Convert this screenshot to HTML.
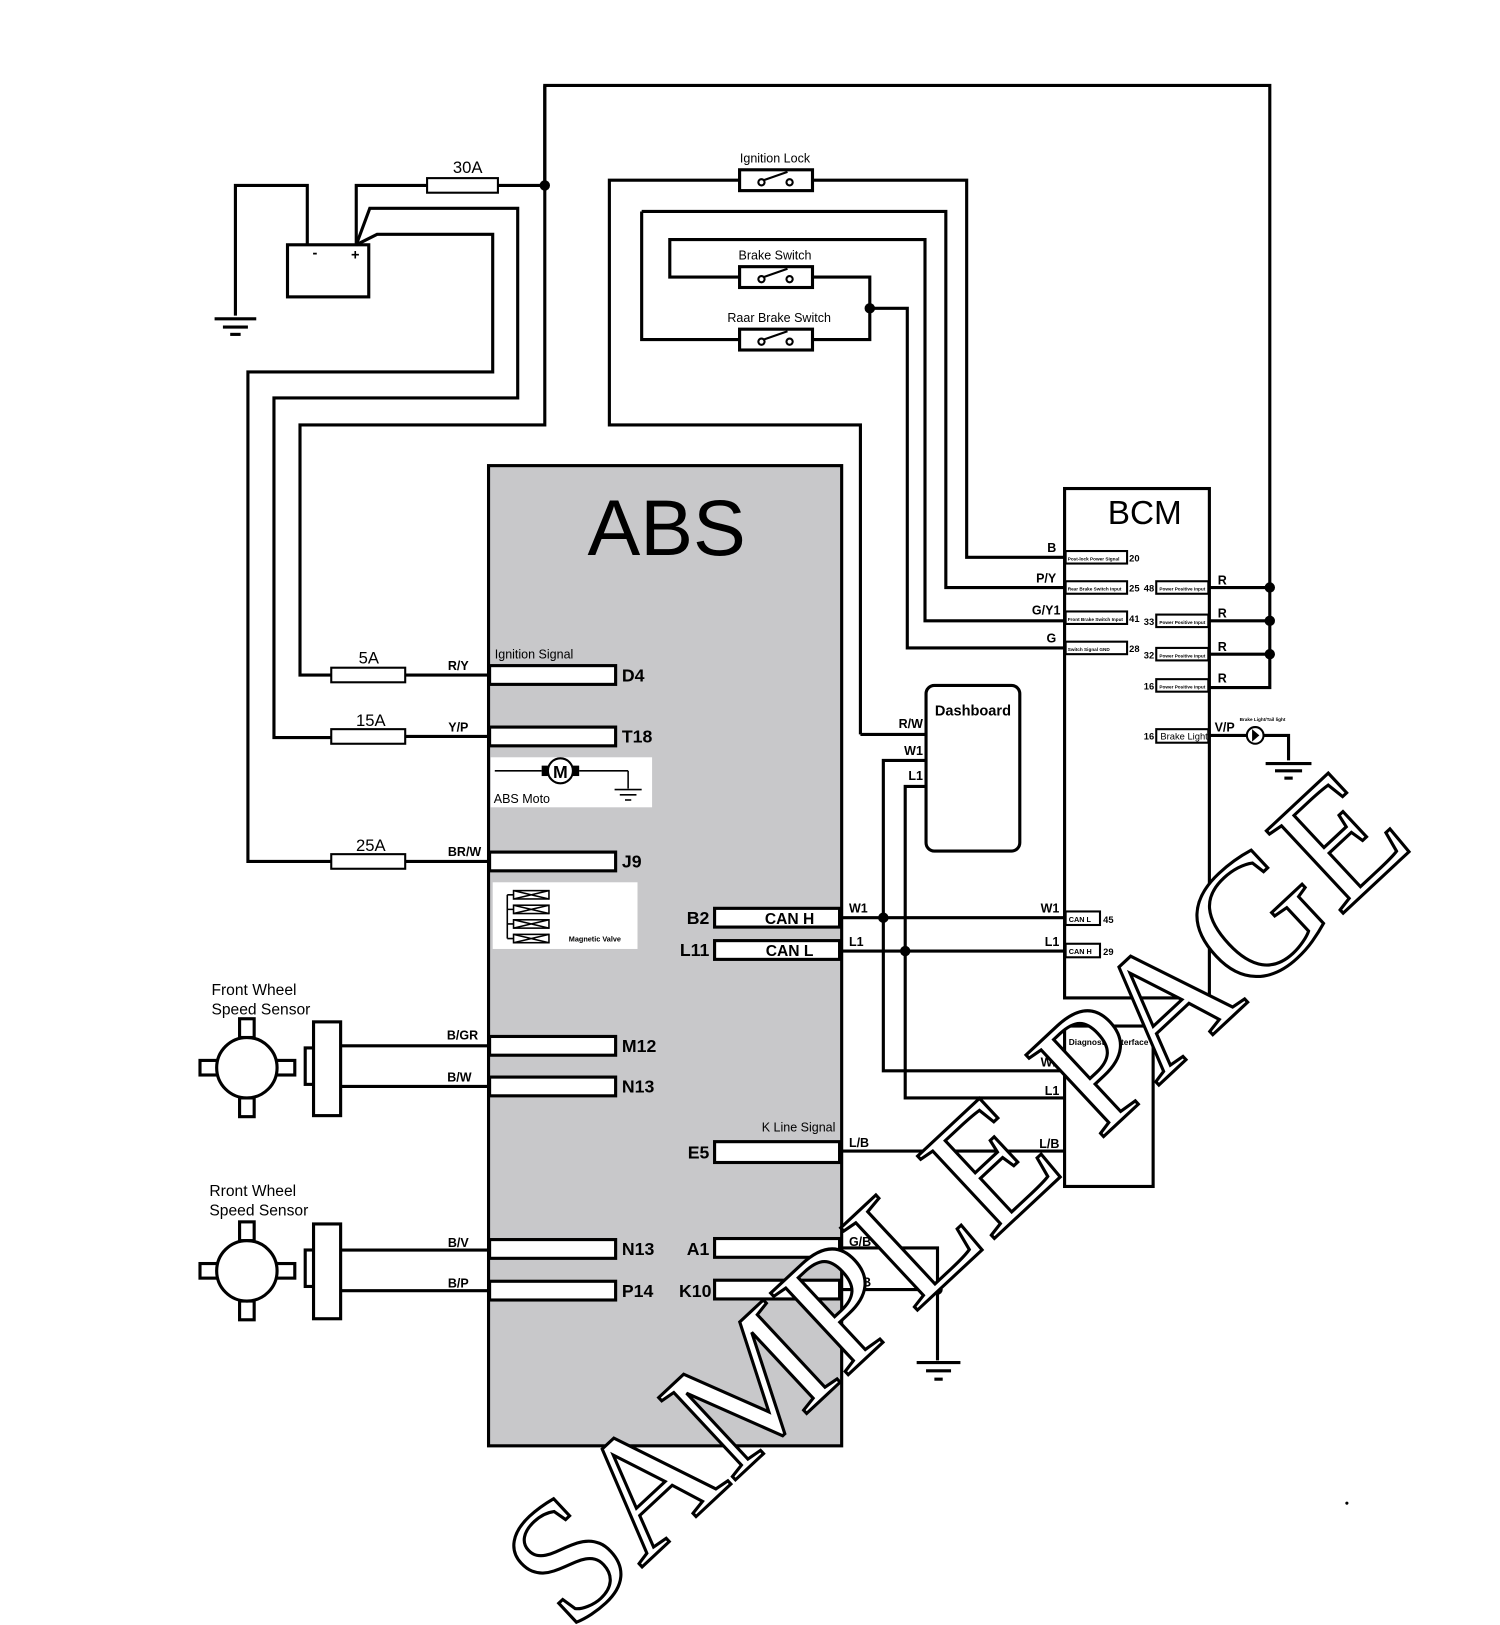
<!DOCTYPE html>
<html><head><meta charset="utf-8"><style>html,body{margin:0;padding:0;background:#fff}svg{display:block}</style></head><body>
<svg width="1500" height="1625" viewBox="0 0 1440 1560" xmlns="http://www.w3.org/2000/svg" font-family="Liberation Sans, sans-serif">
<g fill="none" stroke="#000" stroke-width="3">
<polyline points="226,303 226,178 295,178 295,235"/>
<line x1="206" y1="306" x2="246" y2="306"/><line x1="214" y1="314" x2="238" y2="314"/><line x1="221" y1="321" x2="231" y2="321"/>
<rect x="276" y="235" width="78" height="50"/>
<polyline points="342,235 342,178 410,178"/>
<rect x="410" y="171" width="68" height="14" stroke-width="2"/>
<line x1="478" y1="178" x2="523" y2="178"/>
<polyline points="342,235 355,200 497,200 497,382 263,382 263,708 318,708"/>
<polyline points="342,235 362,225 473,225 473,357 238,357 238,827 318,827"/>
<polyline points="523,82 523,408 288,408 288,648 318,648"/>
<polyline points="523,178 523,82 1219,82 1219,660 1161,660"/>
<line x1="1161" y1="564" x2="1219" y2="564"/><line x1="1161" y1="596" x2="1219" y2="596"/><line x1="1161" y1="628" x2="1219" y2="628"/>
<rect x="318" y="641" width="71" height="14" stroke-width="2"/><line x1="389" y1="648" x2="470" y2="648"/>
<rect x="318" y="700" width="71" height="14" stroke-width="2"/><line x1="389" y1="707" x2="470" y2="707"/>
<rect x="318" y="820" width="71" height="14" stroke-width="2"/><line x1="389" y1="827" x2="470" y2="827"/>
<polyline points="826,705 826,408 585,408 585,173 710,173"/>
<rect x="710" y="163" width="70" height="20"/>
<polyline points="780,173 928,173 928,535 1022,535"/>
<polyline points="616,203 908,203 908,564 1022,564"/>
<polyline points="616,203 616,326 710,326"/>
<rect x="710" y="316" width="70" height="20"/>
<polyline points="780,326 835,326 835,266 780,266"/>
<rect x="710" y="256" width="70" height="20"/>
<polyline points="710,266 643,266 643,230 888,230 888,596 1022,596"/>
<polyline points="835,296 871,296 871,622 1022,622"/>
<polyline points="826,705 889,705"/>
<rect x="469" y="447" width="339" height="941" fill="#c8c8ca"/>
</g>
<g fill="#000">
<circle cx="523" cy="178" r="5"/><circle cx="835" cy="296" r="5"/>
<circle cx="1219" cy="564" r="5"/><circle cx="1219" cy="596" r="5"/><circle cx="1219" cy="628" r="5"/>
<circle cx="848" cy="881" r="5"/><circle cx="869" cy="913" r="5"/><circle cx="900" cy="1238" r="5"/>
</g>
<g stroke="#000" stroke-width="2" fill="#fff">
<circle cx="731" cy="175" r="3"/><circle cx="758" cy="175" r="3"/><line x1="733" y1="173" x2="756" y2="165"/>
<circle cx="731" cy="268" r="3"/><circle cx="758" cy="268" r="3"/><line x1="733" y1="266" x2="756" y2="258"/>
<circle cx="731" cy="328" r="3"/><circle cx="758" cy="328" r="3"/><line x1="733" y1="326" x2="756" y2="318"/>
</g>
<g fill="#fff" stroke="#000" stroke-width="3">
<rect x="470" y="639" width="121" height="18"/><rect x="470" y="698" width="121" height="18"/>
<rect x="470" y="818" width="121" height="18"/><rect x="470" y="995" width="121" height="18"/>
<rect x="470" y="1034" width="121" height="18"/><rect x="470" y="1190" width="121" height="18"/>
<rect x="470" y="1230" width="121" height="18"/>
<rect x="686" y="872" width="120" height="18"/><rect x="686" y="903" width="120" height="18"/>
<rect x="686" y="1096" width="120" height="20"/><rect x="686" y="1189" width="120" height="18"/>
<rect x="686" y="1229" width="120" height="18"/>
</g>
<rect x="471" y="727" width="155" height="48" fill="#fff"/>
<rect x="473" y="847" width="139" height="64" fill="#fff"/>
<g stroke="#000" fill="none" stroke-width="1.5">
<line x1="475" y1="740" x2="520" y2="740"/><line x1="556" y1="740" x2="603" y2="740"/><line x1="603" y1="740" x2="603" y2="757"/>
<line x1="590" y1="758" x2="616" y2="758"/><line x1="595" y1="763" x2="611" y2="763"/><line x1="600" y1="768" x2="606" y2="768"/>
<circle cx="538" cy="740" r="12" fill="#fff" stroke-width="2"/>
<rect x="493" y="855" width="34" height="8"/><rect x="493" y="869" width="34" height="8"/><rect x="493" y="883" width="34" height="8"/><rect x="493" y="897" width="34" height="8"/>
<path d="M493,855 L527,863 M527,855 L493,863 M493,869 L527,877 M527,869 L493,877 M493,883 L527,891 M527,883 L493,891 M493,897 L527,905 M527,897 L493,905"/>
<polyline points="487,859 487,901"/><path d="M487,859H493M487,873H493M487,887H493M487,901H493"/>
</g>
<rect x="520" y="735" width="6" height="10"/><rect x="550" y="735" width="6" height="10"/>
<text x="538" y="747" font-size="17" font-weight="bold" text-anchor="middle">M</text>
<text x="474" y="771" font-size="12">ABS Moto</text>
<text x="546" y="904" font-size="7" font-weight="bold">Magnetic Valve</text>
<g fill="none" stroke="#000" stroke-width="3">
<rect x="889" y="658" width="90" height="159" rx="8"/>
<polyline points="889,730 848,730 848,1028 1022,1028"/>
<polyline points="889,755 869,755 869,1054 1022,1054"/>
<line x1="808" y1="881" x2="1022" y2="881"/><line x1="808" y1="913" x2="1022" y2="913"/>
<rect x="1022" y="469" width="139" height="489"/>
<rect x="1022" y="985" width="85" height="154"/>
<line x1="808" y1="1105" x2="1022" y2="1105"/>
<polyline points="808,1198 900,1198 900,1306"/><line x1="808" y1="1238" x2="900" y2="1238"/>
<line x1="880" y1="1308" x2="922" y2="1308"/><line x1="889" y1="1316" x2="913" y2="1316"/><line x1="897" y1="1324" x2="905" y2="1324"/>
<line x1="1161" y1="706" x2="1197" y2="706"/><polyline points="1213,706 1237,706 1237,730"/>
<line x1="1215" y1="733" x2="1259" y2="733"/><line x1="1224" y1="740" x2="1250" y2="740"/><line x1="1233" y1="747" x2="1241" y2="747"/>
<circle cx="1205" cy="706" r="8" stroke-width="2"/>
</g>
<path d="M1202,700 L1209,706 L1202,712Z"/>
<g fill="#fff" stroke="#000" stroke-width="2">
<rect x="1023" y="529" width="59" height="12"/><rect x="1023" y="558" width="59" height="12"/>
<rect x="1023" y="587" width="59" height="12"/><rect x="1023" y="616" width="59" height="12"/>
<rect x="1110" y="558" width="50" height="12"/><rect x="1110" y="590" width="50" height="12"/>
<rect x="1110" y="622" width="50" height="12"/><rect x="1110" y="652" width="50" height="12"/>
<rect x="1110" y="700" width="50" height="13"/>
<rect x="1023" y="875" width="33" height="13"/><rect x="1023" y="906" width="33" height="13"/>
</g>
<g font-size="4.5" font-weight="bold">
<text x="1025" y="538">Post-lock Power Signal</text><text x="1025" y="567">Rear Brake Switch Input</text>
<text x="1025" y="596">Front Brake Switch Input</text><text x="1025" y="625">Switch Signal GND</text>
<text x="1113" y="567">Power Positive Input</text><text x="1113" y="599">Power Positive Input</text>
<text x="1113" y="631">Power Positive Input</text><text x="1113" y="661">Power Positive Input</text>
<text x="1190" y="692">Brake Light/Tail light</text>
</g>
<g font-size="9" font-weight="bold">
<text x="1084" y="539">20</text><text x="1084" y="568">25</text><text x="1084" y="597">41</text><text x="1084" y="626">28</text>
<text x="1108" y="568" text-anchor="end">48</text><text x="1108" y="600" text-anchor="end">33</text>
<text x="1108" y="632" text-anchor="end">32</text><text x="1108" y="662" text-anchor="end">16</text>
<text x="1108" y="710" text-anchor="end">16</text><text x="1114" y="710" font-size="9" font-weight="normal">Brake Light</text>
<text x="1059" y="886">45</text><text x="1059" y="917">29</text>
</g>
<g font-size="7" font-weight="bold"><text x="1026" y="885">CAN L</text><text x="1026" y="916">CAN H</text></g>
<g font-size="12" font-weight="bold">
<text x="1014" y="530" text-anchor="end">B</text><text x="1014" y="559" text-anchor="end">P/Y</text>
<text x="1018" y="590" text-anchor="end">G/Y1</text><text x="1014" y="617" text-anchor="end">G</text>
<text x="1169" y="561">R</text><text x="1169" y="593">R</text><text x="1169" y="625">R</text><text x="1169" y="655">R</text>
<text x="1166" y="702">V/P</text>
<text x="886" y="699" text-anchor="end">R/W</text><text x="886" y="725" text-anchor="end">W1</text><text x="886" y="749" text-anchor="end">L1</text>
<text x="815" y="876">W1</text><text x="815" y="908">L1</text>
<text x="1017" y="876" text-anchor="end">W1</text><text x="1017" y="908" text-anchor="end">L1</text>
<text x="815" y="1101">L/B</text><text x="1017" y="1102" text-anchor="end">L/B</text>
<text x="1017" y="1024" text-anchor="end">W1</text><text x="1017" y="1051" text-anchor="end">L1</text>
<text x="815" y="1196">G/B</text><text x="815" y="1235">G/B</text>
<text x="440" y="643" text-anchor="middle">R/Y</text><text x="440" y="702" text-anchor="middle">Y/P</text>
<text x="446" y="822" text-anchor="middle">BR/W</text>
<text x="444" y="998" text-anchor="middle">B/GR</text><text x="441" y="1038" text-anchor="middle">B/W</text>
<text x="440" y="1197" text-anchor="middle">B/V</text><text x="440" y="1236" text-anchor="middle">B/P</text>
<text x="744" y="156" text-anchor="middle" font-weight="normal">Ignition Lock</text>
<text x="744" y="249" text-anchor="middle" font-weight="normal">Brake Switch</text>
<text x="748" y="309" text-anchor="middle" font-weight="normal">Raar Brake Switch</text>
<text x="475" y="632" font-weight="normal">Ignition Signal</text>
<text x="802" y="1086" text-anchor="end" font-weight="normal">K Line Signal</text>
<text x="1026" y="1003" font-size="8">Diagnostic Interface</text>
</g>
<g font-size="17" font-weight="bold">
<text x="597" y="654">D4</text><text x="597" y="713">T18</text><text x="597" y="833">J9</text>
<text x="597" y="1010">M12</text><text x="597" y="1049">N13</text><text x="597" y="1205">N13</text><text x="597" y="1245">P14</text>
<text x="681" y="887" text-anchor="end">B2</text><text x="681" y="918" text-anchor="end">L11</text>
<text x="681" y="1112" text-anchor="end">E5</text><text x="681" y="1205" text-anchor="end">A1</text><text x="683" y="1245" text-anchor="end">K10</text>
</g>
<g font-size="15" font-weight="bold" text-anchor="middle">
<text x="758" y="887">CAN H</text><text x="758" y="918">CAN L</text>
<text x="934" y="687" font-size="14">Dashboard</text>
</g>
<g font-size="16">
<text x="449" y="166" text-anchor="middle">30A</text><text x="354" y="637" text-anchor="middle">5A</text>
<text x="356" y="697" text-anchor="middle">15A</text><text x="356" y="817" text-anchor="middle">25A</text>
<text x="203" y="955" font-size="15">Front Wheel</text><text x="203" y="974" font-size="15">Speed Sensor</text>
<text x="201" y="1148" font-size="15">Rront Wheel</text><text x="201" y="1167" font-size="15">Speed Sensor</text>
</g>
<text x="640" y="533" font-size="76" text-anchor="middle">ABS</text>
<text x="1099" y="503" font-size="32" text-anchor="middle">BCM</text>
<text x="300" y="247" font-size="14" font-weight="bold">-</text><text x="337" y="249" font-size="14" font-weight="bold">+</text>
<g fill="#fff" stroke="#000" stroke-width="3">
<rect x="230" y="978" width="14" height="18"/><rect x="230" y="1054" width="14" height="18"/>
<rect x="192" y="1018" width="18" height="14"/><rect x="265" y="1018" width="18" height="14"/>
<circle cx="237" cy="1025" r="29"/>
<rect x="293" y="1006" width="8" height="35"/><rect x="301" y="981" width="26" height="90"/>
<line x1="327" y1="1004" x2="469" y2="1004"/><line x1="327" y1="1043" x2="469" y2="1043"/>
<rect x="230" y="1173" width="14" height="18"/><rect x="230" y="1249" width="14" height="18"/>
<rect x="192" y="1213" width="18" height="14"/><rect x="265" y="1213" width="18" height="14"/>
<circle cx="237" cy="1220" r="29"/>
<rect x="293" y="1200" width="8" height="35"/><rect x="301" y="1175" width="26" height="91"/>
<line x1="327" y1="1200" x2="469" y2="1200"/><line x1="327" y1="1239" x2="469" y2="1239"/>
</g>
<circle cx="1293" cy="1443" r="1.5"/>
<text transform="translate(548,1568) rotate(-43)" font-family="Liberation Serif, serif" font-size="165" fill="#fff" stroke="#000" stroke-width="3" textLength="1110" lengthAdjust="spacingAndGlyphs">SAMPLE PAGE</text>
</svg>
</body></html>
